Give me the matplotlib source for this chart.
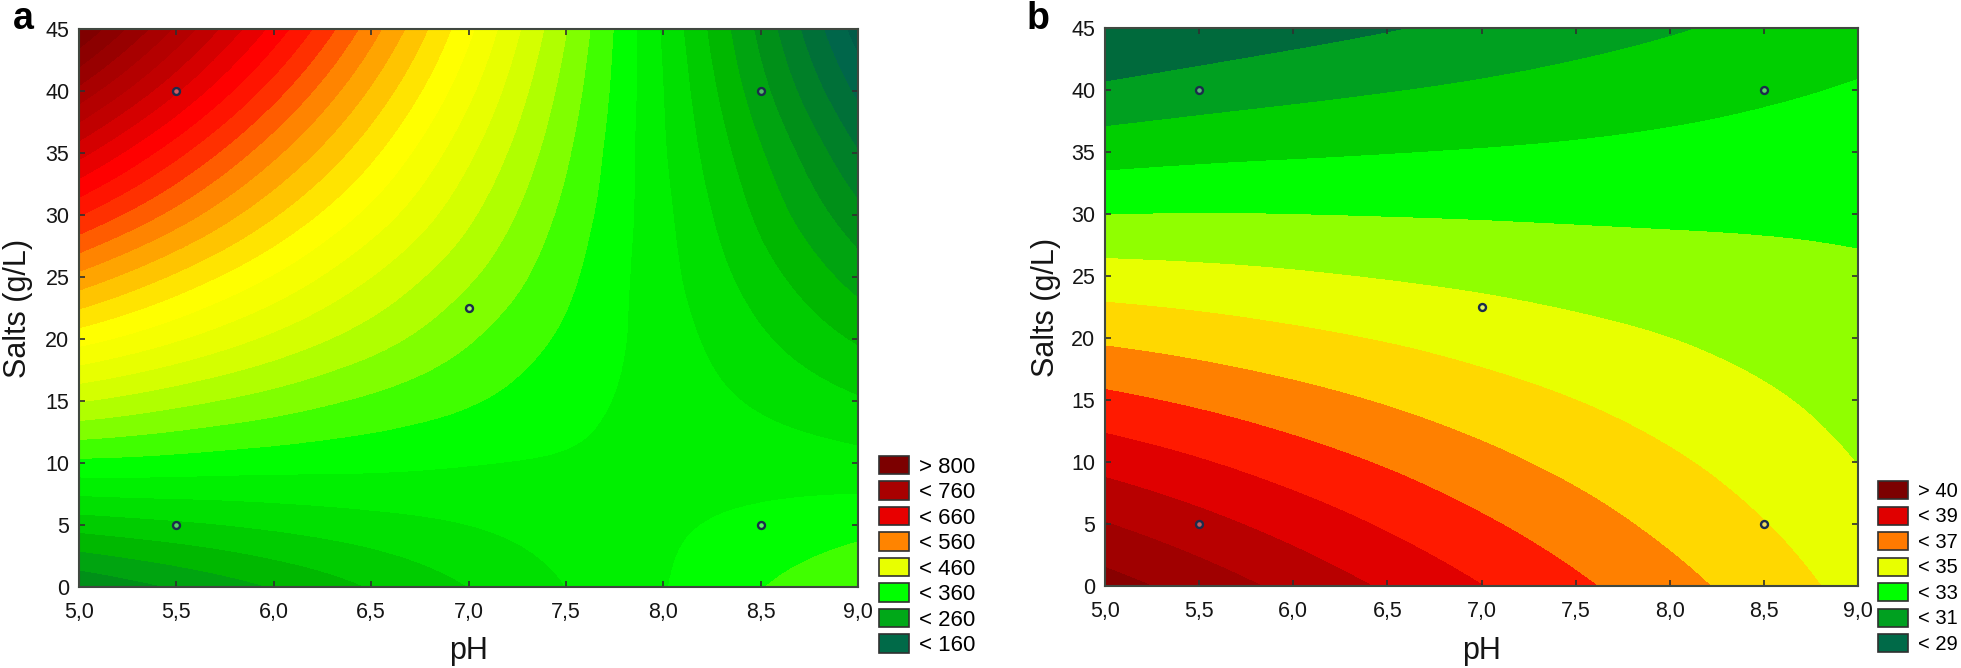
import numpy as np
import matplotlib
matplotlib.use("Agg")
import matplotlib.pyplot as plt
import matplotlib.tri as mtri
from matplotlib.colors import ListedColormap, BoundaryNorm
from matplotlib.patches import Patch

plt.rcParams['font.family'] = ['Liberation Sans', 'DejaVu Sans']

# values
ph = [5.0, 5.5, 6.0, 6.5, 7.0, 7.5, 8.0, 8.5, 9.0]
salts = [0, 5, 10, 15, 20, 25, 30, 35, 40, 45]
ph_labels = ['5,0', '5,5', '6,0', '6,5', '7,0', '7,5', '8,0', '8,5', '9,0']
design_ph = [5.5, 5.5, 8.5, 8.5, 7.0]
design_salts = [5, 40, 5, 40, 22.5]

z_a = [
    [222, 242, 261, 281, 300, 320, 339, 359, 378],
    [288, 296, 304, 312, 320, 329, 337, 345, 353],
    [355, 352, 348, 345, 341, 338, 334, 331, 327],
    [421, 406, 391, 376, 362, 347, 332, 317, 302],
    [488, 462, 435, 409, 382, 356, 330, 303, 277],
    [554, 516, 478, 440, 403, 365, 327, 289, 251],
    [621, 572, 522, 473, 424, 374, 325, 275, 226],
    [687, 626, 565, 505, 444, 383, 322, 262, 201],
    [754, 682, 609, 537, 465, 392, 320, 247, 175],
    [820, 736, 653, 569, 485, 401, 317, 234, 150],
]
z_b = [
    [41.41, 40.57, 39.71, 38.86, 38.02, 37.19, 36.36, 35.52, 34.66],
    [40.04, 39.33, 38.60, 37.87, 37.15, 36.44, 35.73, 35.03, 34.30],
    [38.65, 38.08, 37.48, 36.89, 36.29, 35.71, 35.14, 34.57, 33.98],
    [37.24, 36.81, 36.36, 35.90, 35.44, 35.00, 34.56, 34.13, 33.68],
    [35.82, 35.54, 35.23, 34.92, 34.60, 34.29, 34.00, 33.70, 33.41],
    [34.40, 34.27, 34.11, 33.93, 33.76, 33.59, 33.43, 33.28, 33.13],
    [32.98, 33.01, 32.99, 32.95, 32.91, 32.87, 32.85, 32.84, 32.82],
    [31.57, 31.74, 31.86, 31.96, 32.05, 32.14, 32.25, 32.37, 32.48],
    [30.18, 30.48, 30.73, 30.95, 31.16, 31.38, 31.60, 31.84, 32.08],
    [28.79, 29.22, 29.59, 29.92, 30.24, 30.57, 30.90, 31.24, 31.58],
]

legend_a = ['> 800', '< 760', '< 660', '< 560', '< 460', '< 360', '< 260', '< 160']
legend_a_colors = ['#7c0000', '#a80000', '#e80000', '#ff8400', '#e8ff00', '#00ff00', '#00a818', '#006a48']
legend_b = ['> 40', '< 39', '< 37', '< 35', '< 33', '< 31', '< 29']
legend_b_colors = ['#7c0000', '#e00000', '#ff7a00', '#e8ff00', '#00ff00', '#00a020', '#006a48']

# panel a: bands 20 wide, one colour per band
levels_a = list(range(140, 841, 20))
cmap_a = ListedColormap([
    '#005c48', '#00664a', '#007038', '#008028', '#009018', '#00a410', '#00b800',
    '#00cc00', '#00e000', '#00f000', '#00ff00', '#40ff00', '#80ff00', '#b0ff00',
    '#d4ff00', '#e8ff00', '#f6ff00', '#ffff00', '#ffe400', '#ffc400', '#ffa400',
    '#ff8400', '#ff5c00', '#ff3000', '#ff1400', '#ff0000', '#e80000', '#d40000',
    '#c00000', '#b40000', '#a80000', '#980000', '#8c0000', '#800000', '#780000'])

# panel b: bands of 1
levels_b = [28, 30, 31, 32, 33, 34, 35, 36, 37, 38, 39, 40, 41, 43]
cmap_b = ListedColormap(['#006a3c', '#00a020', '#00cf00', '#00ff00', '#90ff00', '#e8ff00',
                         '#ffd800', '#ff8000', '#ff1a00', '#e00000', '#b80000', '#a00000', '#880000'])

W, H = 1961, 668
fig = plt.figure(figsize=(W / 100, H / 100), dpi=100, facecolor='white')


def panel(box, z, levels, cmap, letter, letter_x, ylab_x, leg_labels, leg_cols, leg_xy, leg_size, leg_gap):
    l, t, r, b = box
    ax = fig.add_axes([l / W, 1 - b / H, (r - l) / W, (b - t) / H])
    xx, yy = np.meshgrid(ph, salts)
    tri = mtri.Triangulation(xx.ravel(), yy.ravel())
    fine, zfine = mtri.UniformTriRefiner(tri).refine_field(np.array(z, float).ravel(), subdiv=3)
    ax.tricontourf(fine, zfine, levels=levels, cmap=cmap,
                   norm=BoundaryNorm(levels, cmap.N), antialiased=False)
    ax.plot(design_ph, design_salts, 'o', ms=5, mfc=(0.85, 0.9, 0.95, 0.4), mec='#1c2c4c', mew=1.7, ls='none')
    ax.set_xlim(5, 9)
    ax.set_ylim(0, 45)
    ax.set_xticks(ph)
    ax.set_xticklabels(ph_labels)
    ax.set_yticks(salts)
    ax.tick_params(direction='in', length=4, width=1.2, color='#303030', top=True, right=True,
                   labelsize=15.5, labelcolor='#151515')
    ax.tick_params(axis='x', pad=11)
    ax.tick_params(axis='y', pad=7)
    for s in ax.spines.values():
        s.set_linewidth(1.5)
        s.set_color('#404840')
    fig.text((l + r) / 2 / W, 1 - 651 / H, 'pH', fontsize=22, ha='center', va='center', color='#151515')
    fig.text(ylab_x / W, 1 - (t + b) / 2 / H, 'Salts (g/L)', fontsize=22, rotation=90,
             ha='center', va='center', color='#151515')
    fig.text(letter_x / W, 1 - 29 / H, letter, fontsize=27, fontweight='bold', ha='left', va='baseline')
    handles = [Patch(facecolor=c, edgecolor='#303030', linewidth=1.2) for c in leg_cols]
    em = leg_size * 100 / 72
    fig.legend(handles, leg_labels, loc='lower left', bbox_to_anchor=(leg_xy[0] / W, 1 - leg_xy[1] / H),
               frameon=False, fontsize=leg_size, handlelength=30 / em, handleheight=20 / em,
               handletextpad=10 / em, labelspacing=leg_gap, borderpad=0, borderaxespad=0)


panel((79, 29, 858, 587), z_a, levels_a, cmap_a, 'a', 13, 18, legend_a, legend_a_colors, (879, 656), 16, 0.16)
panel((1105, 28, 1858, 586), z_b, levels_b, cmap_b, 'b', 1027, 1046, legend_b, legend_b_colors, (1878, 654), 14.5, 0.28)

fig.savefig('out.png', dpi=100)
